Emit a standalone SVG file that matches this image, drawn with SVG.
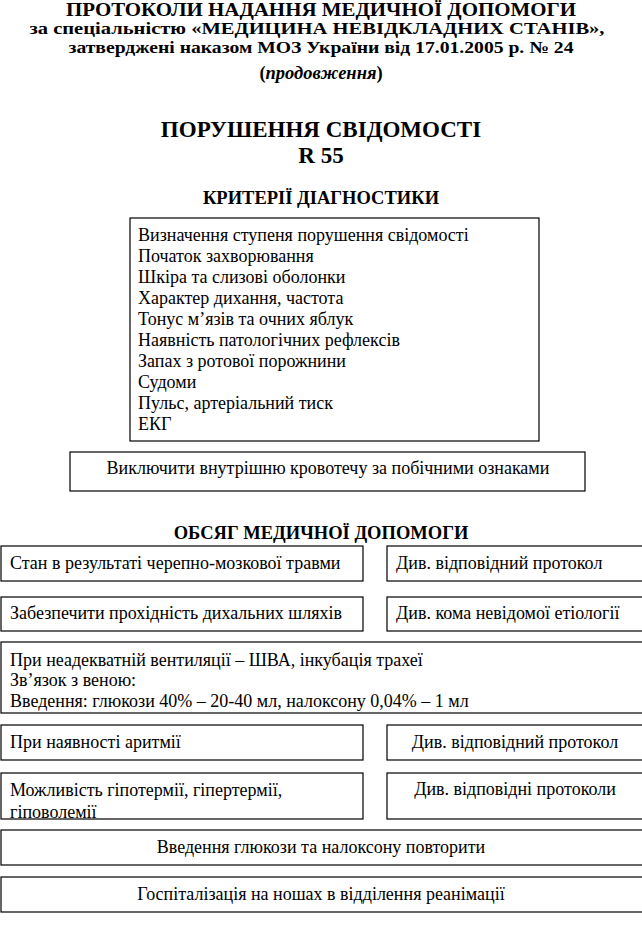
<svg xmlns="http://www.w3.org/2000/svg" width="642" height="939" viewBox="0 0 642 939">
<style>
text{font-family:"Liberation Serif","DejaVu Serif",serif;fill:#000}
.h{font-weight:bold;text-anchor:middle}
.t{font-size:18px}
.c{text-anchor:middle}
.b{fill:#fff;stroke:#000;stroke-width:1.2}
</style>
<defs>
<clipPath id="clip5"><rect x="0" y="773" width="363" height="45"/></clipPath>
</defs>
<rect width="642" height="939" fill="#fff"/>
<g id="header">
<text class="h" x="321" y="16" font-size="19" textLength="510" lengthAdjust="spacingAndGlyphs">ПРОТОКОЛИ НАДАННЯ МЕДИЧНОЇ ДОПОМОГИ</text>
<text class="h" x="317" y="34" font-size="17" textLength="575" lengthAdjust="spacingAndGlyphs">за спеціальністю «МЕДИЦИНА НЕВІДКЛАДНИХ СТАНІВ»,</text>
<text class="h" x="321" y="53" font-size="17" textLength="505" lengthAdjust="spacingAndGlyphs">затверджені наказом МОЗ України від 17.01.2005 р. № 24</text>
<text class="h" x="321" y="79" font-size="18.5">(<tspan font-style="italic">продовження</tspan>)</text>
<text class="h" x="321" y="137" font-size="23">ПОРУШЕННЯ СВІДОМОСТІ</text>
<text class="h" x="321" y="163" font-size="23">R 55</text>
<text class="h" x="321" y="204" font-size="18.5">КРИТЕРІЇ ДІАГНОСТИКИ</text>
<text class="h" x="321" y="539" font-size="18.5">ОБСЯГ МЕДИЧНОЇ ДОПОМОГИ</text>
</g>
<g id="criteria">
<rect class="b" x="130" y="218" width="409" height="223"/>
<text class="t" x="138" y="241">Визначення ступеня порушення свідомості</text>
<text class="t" x="138" y="262">Початок захворювання</text>
<text class="t" x="138" y="283">Шкіра та слизові оболонки</text>
<text class="t" x="138" y="304">Характер дихання, частота</text>
<text class="t" x="138" y="325">Тонус м’язів та очних яблук</text>
<text class="t" x="138" y="346">Наявність патологічних рефлексів</text>
<text class="t" x="138" y="367">Запах з ротової порожнини</text>
<text class="t" x="138" y="388">Судоми</text>
<text class="t" x="138" y="409">Пульс, артеріальний тиск</text>
<text class="t" x="138" y="430">ЕКГ</text>
</g>
<g id="exclude">
<rect class="b" x="70" y="452" width="515" height="39"/>
<text class="t c" x="328" y="474">Виключити внутрішню кровотечу за побічними ознаками</text>
</g>
<g id="tbi">
<rect class="b" x="1" y="546" width="362" height="35"/>
<text class="t" x="10" y="569">Стан в результаті черепно-мозкової травми</text>
</g>
<g id="tbi-ref">
<rect class="b" x="387" y="546" width="260" height="35"/>
<text class="t" x="396" y="569">Див. відповідний протокол</text>
</g>
<g id="airway">
<rect class="b" x="1" y="597" width="362" height="34"/>
<text class="t" x="10" y="619">Забезпечити прохідність дихальних шляхів</text>
</g>
<g id="coma-ref">
<rect class="b" x="387" y="597" width="260" height="34"/>
<text class="t" x="396" y="619">Див. кома невідомої етіології</text>
</g>
<g id="ventilation">
<rect class="b" x="1" y="642" width="646" height="71"/>
<text class="t" x="10" y="666">При неадекватній вентиляції – ШВА, інкубація трахеї</text>
<text class="t" x="10" y="686">Зв’язок з веною:</text>
<text class="t" x="10" y="707">Введення: глюкози 40% – 20-40 мл, налоксону 0,04% – 1 мл</text>
</g>
<g id="arrhythmia">
<rect class="b" x="1" y="725" width="362" height="35"/>
<text class="t" x="10" y="748">При наявності аритмії</text>
</g>
<g id="arrhythmia-ref">
<rect class="b" x="387" y="725" width="260" height="35"/>
<text class="t c" x="515" y="748">Див. відповідний протокол</text>
</g>
<g id="thermo">
<rect class="b" x="1" y="773" width="362" height="46"/>
<g clip-path="url(#clip5)">
<text class="t" x="10" y="796">Можливість гіпотермії, гіпертермії,</text>
<text class="t" x="10" y="818">гіповолемії</text>
</g>
</g>
<g id="thermo-ref">
<rect class="b" x="387" y="773" width="260" height="46"/>
<text class="t c" x="515" y="795">Див. відповідні протоколи</text>
</g>
<g id="repeat">
<rect class="b" x="1" y="830" width="646" height="35"/>
<text class="t c" x="321" y="853">Введення глюкози та налоксону повторити</text>
</g>
<g id="hospital">
<rect class="b" x="1" y="877" width="646" height="35"/>
<text class="t c" x="321" y="900">Госпіталізація на ношах в відділення реанімації</text>
</g>
<g id="connectors"></g>
</svg>
